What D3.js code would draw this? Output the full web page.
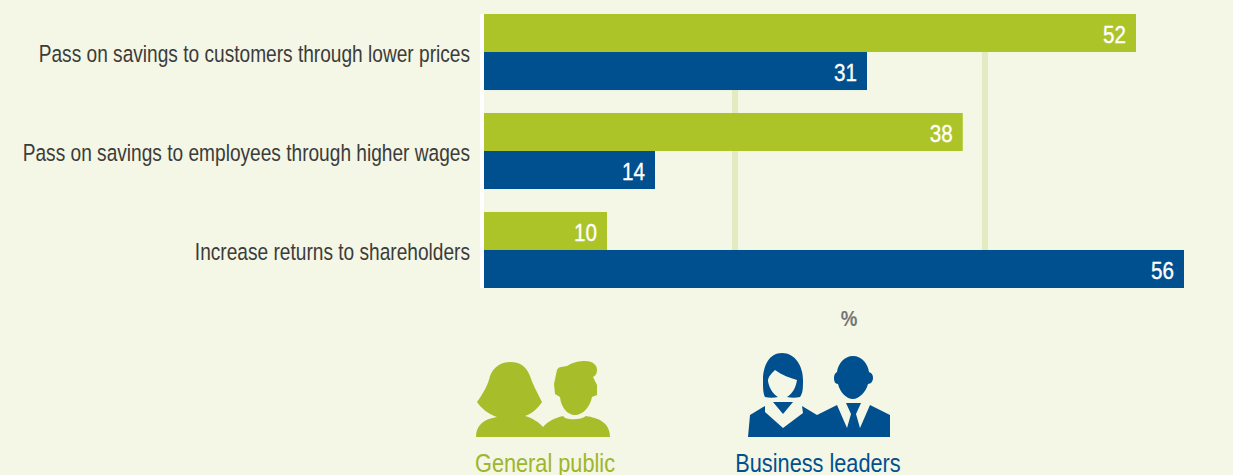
<!DOCTYPE html>
<html><head><meta charset="utf-8">
<script src="https://cdnjs.cloudflare.com/ajax/libs/d3/7.8.5/d3.min.js"></script>
<style>
html,body{margin:0;padding:0;background:#f4f6e6;overflow:hidden}
text{font-family:"Liberation Sans",sans-serif}
</style></head><body><svg id="c" width="1233" height="475"></svg>
<script>
const categories=["Pass on savings to customers through lower prices","Pass on savings to employees through higher wages","Increase returns to shareholders"];
const generalPublic=[52.16,38.3,9.84];
const businessLeaders=[30.64,13.68,56];
const gridTicks=[20,40];
const seriesNames=["General public","Business leaders"];
const unitLabel="%";
const colors=["#adc429","#00508f"];

const svg=d3.select("#c");
const x=d3.scaleLinear().domain([0,56]).range([484,1184]);
const y0=d3.scaleBand().domain(categories).range([14,288]).paddingInner(0.232).paddingOuter(0);
const y1=d3.scaleBand().domain([0,1]).range([0,y0.bandwidth()]);

// narrow type: real text squeezed horizontally about its anchor
function label(parent,px,py,txt,size,sx,anchor,fill){
  return parent.append("text").attr("transform",`translate(${px},${py}) scale(${sx},1)`)
    .attr("text-anchor",anchor).attr("font-size",size).attr("fill",fill).text(txt);
}

svg.append("rect").attr("x",480).attr("y",14).attr("width",4).attr("height",274).attr("fill","#fff");
svg.selectAll(".grid").data(gridTicks).join("rect").attr("class","grid")
  .attr("x",d=>x(d)-2).attr("y",14).attr("width",6).attr("height",274).attr("fill","#e4eac2");

categories.forEach((c,i)=>{
  const g=svg.append("g").attr("transform",`translate(0,${y0(c)})`);
  [generalPublic[i],businessLeaders[i]].forEach((v,s)=>{
    g.append("rect").attr("x",x(0)).attr("y",y1(s)).attr("width",x(v)-x(0)).attr("height",y1.bandwidth()).attr("fill",colors[s]);
    label(g,x(v)-10,y1(s)+y1.bandwidth()/2+10,d3.format(".0f")(v),24,0.86,"end","#fff")
      .attr("stroke","#fff").attr("stroke-width",0.35);
  });
  label(g,470,y0.bandwidth()/2+10,c,23.5,0.814,"end","#3c3c3a");
});
label(svg,849,326,unitLabel,22,0.85,"middle","#757575").attr("font-weight","bold");

// legend icons
const G="#a8bd2a",B=colors[1];
const icons=svg.append("g");
icons.append("path").attr("fill",G).attr("d","M476 437 C476 425 484 419 497 417 C488 414 481 408 477 402 C484 392 488 385 490 376 C494 366 502 362 510 362 C520 362 526 366 530 376 C533 385 537 392 542 402 C538 408 532 414 525 416 C532 418 539 422 543 427 C548 421 555 418 563 416 L565 418 C571 420 581 420 586 416 C598 418 610 422 610 437 Z");
icons.append("path").attr("fill",G).attr("d","M557 370 C559 366 563 367 567 366 C573 362 580 361 585 361 C593 361 597 365 597 370 C597 374 595 376 593 377 L597 385 L597 395 L592 397 C590 407 583 415 575 415 C567 415 561 407 560 397 L555 394 L554 384 Z");
icons.append("path").attr("fill",B).attr("d","M782 353 C795 353 803 366 803 380 C803 388 803 393 800 397 C796 398 791 398 787 397 C793 393 796 387 797 380 C790 378 782 375 775 370 C771 374 768 377 768 381 C769 388 773 394 778 397 C774 398 769 398 765 397 C763 393 763 388 763 380 C763 366 769 353 782 353 Z");
icons.append("path").attr("fill",B).attr("d","M773 402 L793 402 L783 414 Z");
icons.append("path").attr("fill",B).attr("d","M748 437 L750 415 L765 406 L765 412 L783 428 L803 413 L802 406 L817 415 L817 437 Z");
icons.append("path").attr("fill",B).attr("d","M853 356 C862 356 868 364 869 372 C872 373 873 375 873 378 C873 381 871 384 868 384 C866 392 859 399 853 399 C846 399 840 392 838 384 C835 384 834 381 834 378 C834 375 835 373 837 372 C838 364 844 356 853 356 Z");
icons.append("path").attr("fill",B).attr("d","M817 437 L817 415 L837 405 L847 428 L851 414 L846 403 L861 403 L856 414 L860 428 L870 405 L890 415 L890 437 Z");
[[545,0,"#9fb52c"],[818,1,colors[1]]].forEach(([cx,s,f])=>{
  label(svg,cx,472,seriesNames[s],26.5,0.82,"middle",f);
});
</script></body></html>
